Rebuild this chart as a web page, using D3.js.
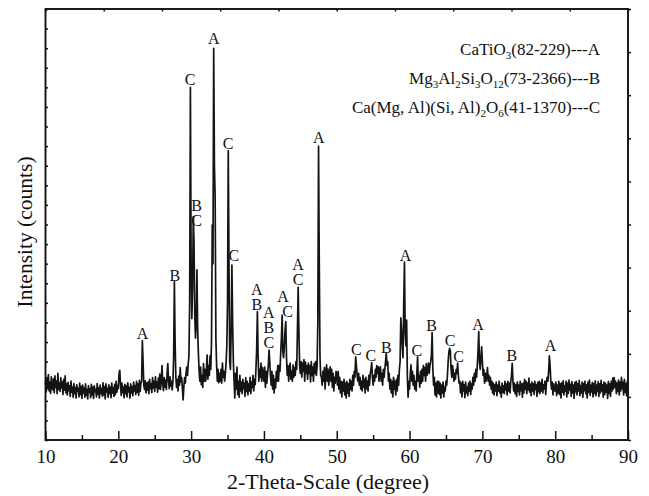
<!DOCTYPE html>
<html lang="en">
<head>
<meta charset="UTF-8">
<title>XRD pattern</title>
<style>
    body{margin:0;background:#fff;}
    svg{display:block;}
    text{font-family:"Liberation Serif","Times New Roman",serif;fill:#111;}
</style>
</head>
<body>
<svg width="649" height="496"></svg>
<script src="https://d3js.org/d3.v7.min.js"></script>
<script>
// intensity (counts), 0.1 degree steps, one array per 10 degrees
var scan10 = [
    300,245,318,262,334,250,296,238,322,270,
    256,312,241,327,268,301,236,340,258,290,
    248,318,266,297,232,309,254,328,240,286,
    230,294,252,276,222,301,244,270,218,288,
    236,268,214,282,248,262,220,290,232,274,
    212,280,240,266,218,286,228,258,210,278,
    244,262,216,284,230,270,212,276,246,258,
    220,288,234,266,214,280,238,262,224,292,
    230,272,210,286,246,264,218,282,236,270,
    216,290,240,268,222,284,232,300,244,278];
var scan20 = [
    262,338,356,284,228,290,242,270,216,284,
    236,276,220,292,246,268,214,286,240,272,
    226,296,250,278,232,300,244,286,228,304,
    248,290,300,507,400,280,258,302,240,292,
    254,296,236,310,262,288,242,318,266,300,
    248,322,270,296,244,316,262,336,258,300,
    380,290,252,318,270,306,258,340,390,300,
    262,322,276,300,256,300,420,808,500,320,
    268,310,250,326,280,370,296,318,262,205,
    272,318,290,340,372,330,390,430,700,1800];
var scan30 = [
    900,620,780,1140,1000,640,520,600,868,560,
    440,350,300,372,282,330,268,390,300,360,
    300,360,434,310,380,330,430,360,500,1097,
    900,1999,1400,1235,520,380,300,360,292,340,
    300,360,290,392,320,350,300,340,390,480,
    700,1477,900,400,360,560,893,600,400,300,
    214,340,260,372,232,300,218,330,250,296,
    236,310,262,290,222,318,248,300,230,286,
    250,320,236,296,268,330,250,310,282,360,
    460,655,430,300,360,320,392,300,370,340];
var scan40 = [
    300,372,268,350,290,340,380,459,400,330,
    280,350,260,330,240,310,266,350,300,380,
    300,380,350,440,520,638,450,420,480,560,
    604,420,330,380,300,360,392,310,350,300,
    383,320,370,330,400,360,560,779,560,380,
    340,400,320,392,350,410,300,398,340,380,
    310,392,340,380,296,400,330,372,300,390,
    340,400,330,380,600,1500,900,420,330,320,
    280,350,300,370,260,340,383,300,362,280,
    330,374,300,360,270,340,250,320,290,350];
var scan50 = [
    340,280,350,260,320,240,300,220,296,250,
    310,230,290,214,300,240,286,222,310,260,
    300,250,330,280,350,320,425,380,330,300,
    340,280,320,260,300,250,330,270,310,240,
    320,262,300,250,330,280,340,360,395,320,
    280,330,300,360,320,380,340,374,300,360,
    374,300,340,280,360,320,360,400,443,380,
    400,300,340,260,310,240,300,220,320,260,
    300,230,310,250,330,280,360,400,623,560,
    480,420,700,908,540,480,612,320,219,300];
var scan60 = [
    260,340,383,300,350,280,330,260,300,250,
    340,425,300,330,270,350,290,360,300,380,
    330,370,300,390,330,360,393,340,380,400,
    430,548,360,280,320,230,290,220,300,240,
    300,232,290,214,280,240,296,220,270,250,
    300,280,330,400,450,468,455,360,320,380,
    350,300,340,310,360,340,393,330,290,300,
    240,290,220,300,250,282,216,296,240,270,
    226,290,250,300,232,286,260,320,280,340,
    300,360,320,380,450,553,400,360,420,476];
var scan70 = [
    400,330,360,290,340,300,330,370,300,330,
    280,320,260,300,240,290,230,282,250,296,
    226,280,250,300,240,270,218,290,244,276,
    236,300,256,286,230,300,250,290,240,300,
    330,391,300,250,290,236,282,222,296,248,
    280,230,300,252,286,218,290,240,310,260,
    300,236,290,256,316,244,284,226,296,250,
    286,232,300,258,282,222,294,246,300,236,
    292,250,310,240,282,262,300,232,296,320,
    300,350,429,380,300,260,296,230,286,250];
var scan80 = [
    250,296,226,280,240,300,232,286,214,292,
    244,302,230,276,250,300,220,290,238,306,
    256,284,222,298,240,280,212,294,246,300,
    230,286,250,304,226,278,240,296,218,288,
    252,300,236,282,214,296,244,306,228,280,
    246,294,220,288,238,302,226,280,248,298,
    222,286,240,304,250,282,218,296,232,290,
    244,280,212,298,236,286,222,300,250,316,
    260,318,270,300,236,290,248,306,230,296,
    250,320,262,296,230,310,244,288,226,300,
    250];

// peak marks: angle, phase letters (top to bottom), counts at the lowest letter
var peakAngle = [23.31, 27.77, 29.87, 30.75, 33.12, 35.08, 35.87, 39.02, 40.67, 42.63, 43.24, 44.69,
                 47.53, 52.70, 54.67, 56.82, 59.44, 61.01, 63.04, 65.57, 66.74, 69.42, 74.05, 79.36];
var peakText  = ["A", "B", "C", "BC", "A", "C", "C", "AB", "ABC", "A", "C", "AC",
                 "A", "C", "C", "B", "A", "C", "B", "C", "C", "A", "B", "A"];
var peakCount = [516, 811, 1812, 1092, 2021, 1485, 914, 664, 470, 706, 629, 791,
                 1516, 434, 403, 444, 914, 429, 556, 480, 398, 561, 403, 454];

var legendLines = ["CaTiO_{3}(82-229)---A",
                   "Mg_{3}Al_{2}Si_{3}O_{12}(73-2366)---B",
                   "Ca(Mg, Al)(Si, Al)_{2}O_{6}(41-1370)---C"];

var xMajorTicks = [10, 20, 30, 40, 50, 60, 70, 80, 90];
var xMinorTicks = [15, 25, 35, 45, 55, 65, 75, 85];
var topTicks = [10, 18, 26, 34, 42, 50, 58, 66, 74, 82, 90];
var leftTicks = d3.range(0, 2201, 100);
var rightTicks = [0, 220, 440, 660, 880, 1100, 1320, 1540, 1760, 1980, 2200];

draw();

function draw(){
    var svg = d3.select("svg");
    var x = d3.scaleLinear().domain([10, 90]).range([45.5, 628]);
    var y = d3.scaleLinear().domain([0, 2200]).range([440, 9]);

    var counts = scan10.concat(scan20, scan30, scan40, scan50, scan60, scan70, scan80);
    var data = counts.map(function(c, i){ return [10 + i / 10, c]; });

    // the scan
    var line = d3.line().x(function(d){return x(d[0])}).y(function(d){return y(d[1])});
    svg.append("path").attr("d", line(data))
        .attr("fill", "none").attr("stroke", "#141414")
        .attr("stroke-width", 1.7).attr("stroke-linejoin", "round");

    // axes, ticks point inward except on the right
    var bottom = svg.append("g").attr("transform", "translate(0,440)")
        .call(d3.axisBottom(x).tickValues(xMajorTicks).tickSize(-9).tickFormat(d3.format("d")));
    bottom.selectAll("text").attr("y", 23).attr("dy", null)
        .attr("font-size", 19).style("font-family", "Liberation Serif");
    svg.append("g").attr("transform", "translate(0,440)")
        .call(d3.axisBottom(x).tickValues(xMinorTicks).tickSize(-5).tickFormat(""));
    svg.append("g").attr("transform", "translate(0,9)")
        .call(d3.axisTop(x).tickValues(topTicks).tickSize(-2.5).tickFormat(""));
    svg.append("g").attr("transform", "translate(45.5,0)")
        .call(d3.axisLeft(y).tickValues(leftTicks).tickSize(-2.5).tickFormat(""));
    svg.append("g").attr("transform", "translate(628,0)")
        .call(d3.axisRight(y).tickValues(rightTicks).tickSize(3).tickFormat(""));
    svg.selectAll(".domain").remove();
    svg.selectAll(".tick line").attr("stroke", "#111").attr("stroke-width", 1.5);

    svg.append("rect").attr("x", 45.5).attr("y", 9).attr("width", 582.5).attr("height", 431)
        .attr("fill", "none").attr("stroke", "#111").attr("stroke-width", 1.9);

    // phase letters over the peaks
    peakText.forEach(function(t, i){
        var letters = t.split("");
        letters.forEach(function(l, j){
            svg.append("text")
                .attr("x", x(peakAngle[i]))
                .attr("y", y(peakCount[i]) - (letters.length - 1 - j) * 15)
                .attr("text-anchor", "middle").attr("font-size", 16)
                .text(l);
        });
    });

    // legend, right aligned, with subscripts
    legendLines.forEach(function(s, i){
        var txt = svg.append("text").attr("x", 600).attr("y", 55 + i * 29)
            .attr("text-anchor", "end").attr("font-size", 17);
        var parts = s.split(/(_\{[^}]*\})/).filter(function(p){return p.length});
        var shift = 0;
        parts.forEach(function(p){
            if (p[0] === "_") {
                txt.append("tspan").attr("font-size", 11).attr("dy", 4 - shift).text(p.slice(2, -1));
                shift = 4;
            } else {
                txt.append("tspan").attr("dy", -shift).text(p);
                shift = 0;
            }
        });
    });

    // axis titles
    svg.append("text").attr("x", 328).attr("y", 489)
        .attr("text-anchor", "middle").attr("font-size", 22)
        .text("2-Theta-Scale (degree)");
    svg.append("text").attr("transform", "translate(32,232) rotate(-90)")
        .attr("text-anchor", "middle").attr("font-size", 21.5)
        .text("Intensity (counts)");
}
</script>
</body>
</html>
